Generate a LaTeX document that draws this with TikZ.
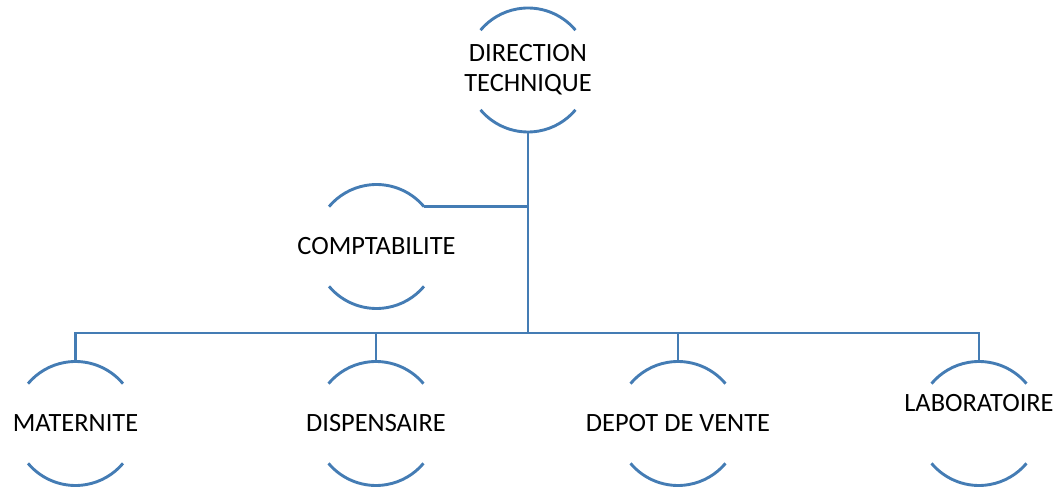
\documentclass[tikz,border=0pt]{standalone}
\usepackage{fontspec}
\setmainfont{Carlito}
\begin{document}
\begin{tikzpicture}[x=1pt,y=1pt,
  orgline/.style={draw={rgb,255:red,68;green,124;blue,180}, line width=2.9pt},
  unit/.style={circle, minimum size=124pt, inner sep=0pt, outer sep=0pt},
  lbl/.style={font=\fontsize{26.4}{30}\selectfont, align=center, inner sep=0pt, text=black}]
\useasboundingbox (0,0) rectangle (1061,488);

% units (circles whose left and right sides stay open)
\node[unit] (D)  at (528,418)   {};
\node[unit] (C)  at (376.5,241.5) {};
\node[unit] (M)  at (75.5,64.5) {};
\node[unit] (Di) at (376,64.5)  {};
\node[unit] (Dv) at (678,64.5)  {};
\node[unit] (L)  at (979,64.5)  {};

\newcommand\openring[1]{%
  \draw[orgline] (#1.40) arc[start angle=40,end angle=140,radius=62];
  \draw[orgline] (#1.220) arc[start angle=220,end angle=320,radius=62];}
\openring{D}\openring{C}\openring{M}\openring{Di}\openring{Dv}\openring{L}

% labels
\node[lbl] (tD)  at (D)  {DIRECTION\\TECHNIQUE};
\node[lbl] (tC)  at (C)  {COMPTABILITE};
\node[lbl] (tM)  at (M)  {MATERNITE};
\node[lbl] (tDi) at (Di) {DISPENSAIRE};
\node[lbl] (tDv) at (Dv) {DEPOT DE VENTE};
\node[lbl] (tL)  at ([yshift=20pt]L.center) {LABORATOIRE};

% connectors
\coordinate (j) at (528,155);
\draw[orgline] (D.south) -- (j);
\draw[orgline] (C.40) -- (C.40 -| j);
\draw[orgline] (M.north) |- (j) -| (L.north);
\draw[orgline] (Di.north) -- (Di.north |- j);
\draw[orgline] (Dv.north) -- (Dv.north |- j);
\end{tikzpicture}
\end{document}
